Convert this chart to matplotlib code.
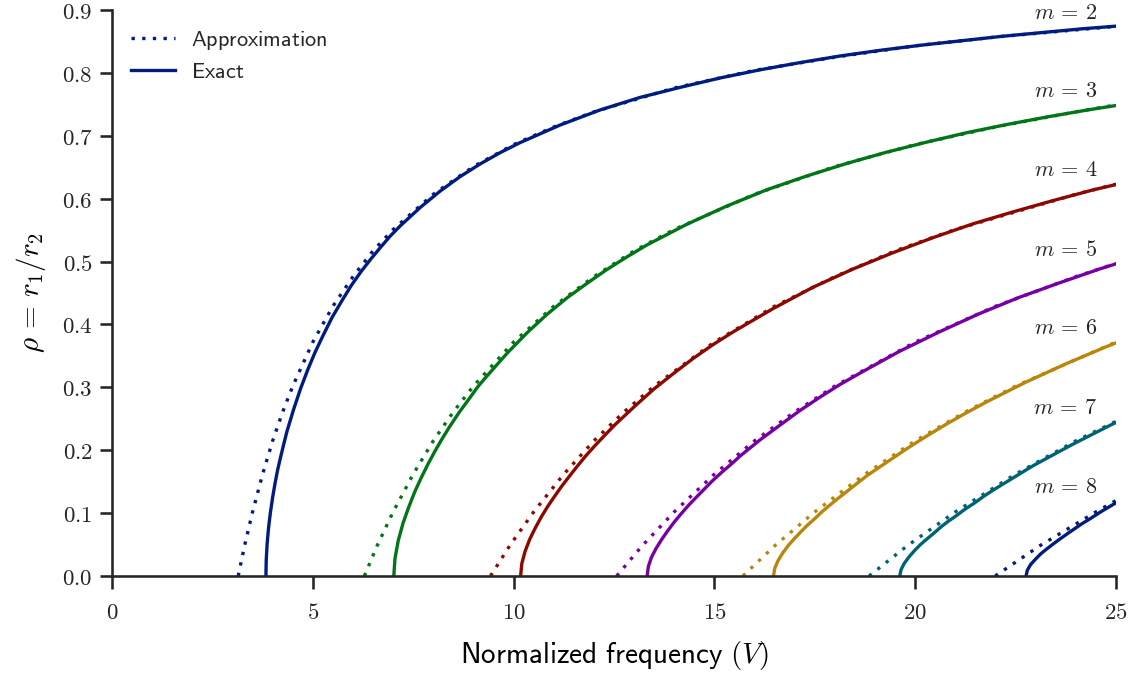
import matplotlib
matplotlib.use('Agg')
import matplotlib.pyplot as plt
from matplotlib.ticker import FuncFormatter, MultipleLocator

plt.rcParams['mathtext.fontset'] = 'cm'
plt.rcParams['axes.linewidth'] = 1.875
plt.rcParams['axes.edgecolor'] = '.15'
plt.rcParams['text.color'] = '.15'
plt.rcParams['xtick.color'] = '.15'
plt.rcParams['ytick.color'] = '.15'

modes = [2, 3, 4, 5, 6, 7, 8]
colors = ['#001c7f', '#017517', '#8c0900', '#7600a1', '#b8860b', '#006374', '#001c7f']

# approximate ring ratio rho = r1/r2 vs normalized frequency V
approx_v_2 = [3.142, 3.3, 3.5, 3.75, 4.0, 4.25, 4.5, 5, 5.5, 6, 6.5, 7, 8, 9, 10, 11, 12, 14, 16, 18, 20, 22, 25]
approx_rho_2 = [0, 0.048, 0.102, 0.162, 0.215, 0.261, 0.302, 0.372, 0.429, 0.476, 0.517, 0.551, 0.607, 0.651,
                0.686, 0.714, 0.738, 0.776, 0.804, 0.825, 0.843, 0.857, 0.874]
approx_v_3 = [6.283, 6.6, 7, 7.5, 8, 8.5, 9, 10, 11, 12, 13, 14, 16, 18, 20, 22, 24, 25]
approx_rho_3 = [0, 0.048, 0.102, 0.162, 0.215, 0.261, 0.302, 0.372, 0.429, 0.476, 0.517, 0.551, 0.607, 0.651,
                0.686, 0.714, 0.738, 0.749]
approx_v_4 = [9.425, 9.9, 10.5, 11.25, 12, 12.75, 13.5, 15, 16.5, 18, 19.5, 21, 24, 25]
approx_rho_4 = [0, 0.048, 0.102, 0.162, 0.215, 0.261, 0.302, 0.372, 0.429, 0.476, 0.517, 0.551, 0.607, 0.623]
approx_v_5 = [12.566, 13.2, 14, 15, 16, 17, 18, 20, 22, 24, 25]
approx_rho_5 = [0, 0.048, 0.102, 0.162, 0.215, 0.261, 0.302, 0.372, 0.429, 0.476, 0.497]
approx_v_6 = [15.708, 16.5, 17.5, 18.75, 20, 21.25, 22.5, 25]
approx_rho_6 = [0, 0.048, 0.102, 0.162, 0.215, 0.261, 0.302, 0.372]
approx_v_7 = [18.85, 19.8, 21, 22.5, 24, 25]
approx_rho_7 = [0, 0.048, 0.102, 0.162, 0.215, 0.246]
approx_v_8 = [21.991, 23.1, 24.5, 25]
approx_rho_8 = [0, 0.048, 0.102, 0.120]

# exact solutions
exact_v_2 = [3.832, 3.840, 3.863, 3.898, 3.944, 3.999, 4.061, 4.128, 4.201, 4.277, 4.356, 4.522, 4.695, 4.874,
             5.058, 5.244, 5.478, 5.718, 5.958, 6.201, 6.444, 6.691, 6.935, 7.181, 7.675, 8.170, 8.666, 9.162,
             9.660, 10.158, 11.155, 12.152, 13.150, 14.149, 15.148, 16.147, 17.147, 18.146, 19.145, 20.145,
             21.145, 22.144, 23.144, 24.144, 25.144]
exact_rho_2 = [0, 0.026, 0.052, 0.077, 0.101, 0.125, 0.148, 0.170, 0.190, 0.210, 0.230, 0.265, 0.298, 0.328,
               0.356, 0.381, 0.411, 0.437, 0.462, 0.484, 0.504, 0.523, 0.541, 0.557, 0.586, 0.612, 0.635, 0.655,
               0.673, 0.689, 0.717, 0.741, 0.761, 0.777, 0.792, 0.805, 0.8165, 0.827, 0.836, 0.844, 0.851,
               0.858, 0.864, 0.870, 0.875]
exact_v_3 = [7.016, 7.046, 7.126, 7.241, 7.379, 7.532, 7.697, 7.868, 8.045, 8.227, 8.412, 8.642, 8.883, 9.121,
             9.363, 9.849, 10.338, 10.830, 11.324, 11.819, 12.314, 12.811, 13.308, 14.304, 15.300, 16.298,
             17.296, 18.294, 19.293, 20.292, 21.291, 22.290, 23.289, 24.289, 25.288]
exact_rho_3 = [0, 0.028, 0.056, 0.083, 0.108, 0.133, 0.156, 0.178, 0.199, 0.219, 0.238, 0.260, 0.281, 0.302,
               0.320, 0.355, 0.387, 0.416, 0.442, 0.465, 0.487, 0.507, 0.526, 0.559, 0.588, 0.614, 0.636,
               0.656, 0.674, 0.690, 0.705, 0.718, 0.730, 0.741, 0.751]
exact_v_4 = [10.174, 10.204, 10.284, 10.398, 10.536, 10.689, 10.852, 11.023, 11.200, 11.381, 11.565, 11.796,
             12.035, 12.273, 12.515, 13.000, 13.488, 13.980, 14.473, 14.967, 15.462, 16.455, 17.450, 18.446,
             19.443, 20.441, 21.439, 22.437, 23.436, 24.435, 25.434]
exact_rho_4 = [0, 0.020, 0.039, 0.058, 0.076, 0.094, 0.111, 0.127, 0.143, 0.158, 0.173, 0.191, 0.208, 0.224,
               0.240, 0.269, 0.297, 0.322, 0.346, 0.368, 0.388, 0.425, 0.459, 0.488, 0.514, 0.538, 0.560,
               0.579, 0.597, 0.614, 0.629]
exact_v_5 = [13.324, 13.354, 13.434, 13.548, 13.685, 13.838, 14.002, 14.172, 14.349, 14.530, 14.714, 14.944,
             15.183, 15.421, 15.662, 16.147, 16.635, 17.126, 17.619, 18.113, 18.608, 19.600, 20.595, 21.591,
             22.587, 23.585, 24.582, 25.581]
exact_rho_5 = [0, 0.015, 0.030, 0.044, 0.058, 0.072, 0.086, 0.099, 0.112, 0.124, 0.136, 0.151, 0.165, 0.178,
               0.192, 0.217, 0.240, 0.263, 0.284, 0.304, 0.322, 0.357, 0.388, 0.417, 0.443, 0.466, 0.488, 0.508]
exact_v_6 = [16.471, 16.501, 16.580, 16.695, 16.832, 16.985, 17.148, 17.319, 17.495, 17.676, 17.860, 18.090,
             18.329, 18.566, 18.808, 19.293, 19.780, 20.271, 20.764, 21.258, 21.753, 22.248, 22.745, 23.739,
             24.734, 25.731]
exact_rho_6 = [0, 0.012, 0.024, 0.036, 0.048, 0.059, 0.070, 0.081, 0.091, 0.102, 0.112, 0.124, 0.136, 0.148,
               0.160, 0.181, 0.202, 0.222, 0.241, 0.259, 0.276, 0.292, 0.308, 0.337, 0.364, 0.389]
exact_v_7 = [19.616, 19.646, 19.726, 19.840, 19.977, 20.130, 20.293, 20.463, 20.640, 20.821, 21.005, 21.234,
             21.474, 21.711, 21.952, 22.437, 22.925, 23.415, 23.908, 24.401, 24.896, 25.392]
exact_rho_7 = [0, 0.010, 0.020, 0.030, 0.040, 0.050, 0.059, 0.068, 0.078, 0.087, 0.095, 0.106, 0.116, 0.127,
               0.137, 0.156, 0.175, 0.192, 0.209, 0.225, 0.241, 0.256]
exact_v_8 = [22.760, 22.790, 22.870, 22.984, 23.121, 23.274, 23.437, 23.607, 23.784, 23.965, 24.148, 24.378,
             24.618, 24.855, 25.096]
exact_rho_8 = [0, 0.009, 0.018, 0.026, 0.035, 0.043, 0.051, 0.059, 0.067, 0.075, 0.083, 0.092, 0.102, 0.111,
               0.120]

approx_v = [approx_v_2, approx_v_3, approx_v_4, approx_v_5, approx_v_6, approx_v_7, approx_v_8]
approx_rho = [approx_rho_2, approx_rho_3, approx_rho_4, approx_rho_5, approx_rho_6, approx_rho_7, approx_rho_8]
exact_v = [exact_v_2, exact_v_3, exact_v_4, exact_v_5, exact_v_6, exact_v_7, exact_v_8]
exact_rho = [exact_rho_2, exact_rho_3, exact_rho_4, exact_rho_5, exact_rho_6, exact_rho_7, exact_rho_8]

fig, ax = plt.subplots(figsize=(11.35, 6.79), dpi=100)
fig.subplots_adjust(left=0.0987, right=0.9833, bottom=0.1517, top=0.9853)

lw = 2.4
for i, m in enumerate(modes):
    ax.plot(approx_v[i], approx_rho[i], color=colors[i], lw=lw, linestyle=(0, (1, 2.2)),
            label=r'$\mathsf{Approximation}$' if i == 0 else None)
    ax.plot(exact_v[i], exact_rho[i], color=colors[i], lw=lw,
            label=r'$\mathsf{Exact}$' if i == 0 else None)
    ax.text(24.53, approx_rho[i][-1] + 0.006, r'$m\,=\,%d$' % m, ha='right', va='bottom', fontsize=16)

ax.set_xlim(0, 25)
ax.set_ylim(0, 0.9)
ax.xaxis.set_major_locator(MultipleLocator(5))
ax.yaxis.set_major_locator(MultipleLocator(0.1))
ax.xaxis.set_major_formatter(FuncFormatter(lambda v, p: r'$%d$' % round(v)))
ax.yaxis.set_major_formatter(FuncFormatter(lambda v, p: r'$%.1f$' % v))
ax.tick_params(direction='out', length=9, width=1.875, labelsize=16.5)
ax.tick_params(axis='x', pad=9)
ax.tick_params(axis='y', pad=5)
ax.spines['top'].set_visible(False)
ax.spines['right'].set_visible(False)

ax.set_xlabel(r'$\mathsf{Normalized\ frequency}\ (V)$', fontsize=21, labelpad=11)
ax.set_ylabel(r'$\rho\,=\,r_1/r_2$', fontsize=21, labelpad=10)
ax.legend(loc='upper left', frameon=False, fontsize=16, labelspacing=0.45, borderaxespad=0.45,
          handletextpad=0.7)

fig.savefig('out.png', dpi=100)
